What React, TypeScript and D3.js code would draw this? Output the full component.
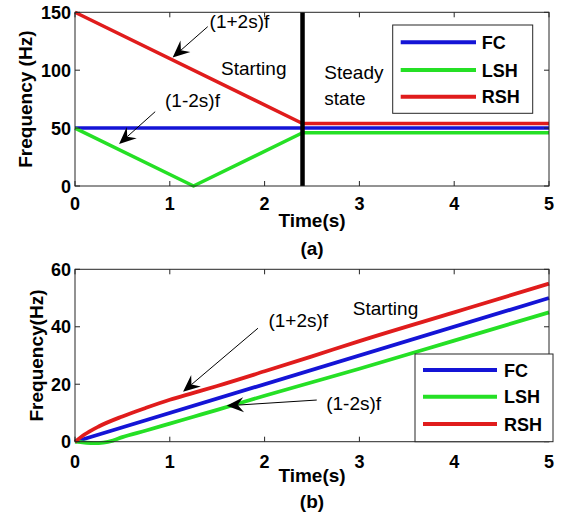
import * as d3 from 'd3'

const W = 564
const H = 512

// shared
const timeTicks = [0, 1, 2, 3, 4, 5]
const seriesNames = ['FC', 'LSH', 'RSH']
const seriesColors = ['#1414d6', '#25e025', '#e01c1c']

// panel (a): constant-speed start, switch to steady state at 2.4 s
const topYTicks = [0, 50, 100, 150]
const switchTime = 2.4
const topFC: [number, number][] = [[0, 50], [5, 50]]
const topLSH: [number, number][] = [[0, 50], [1.25, 0], [2.4, 46], [5, 46]]
const topRSH: [number, number][] = [[0, 150], [2.4, 54], [5, 54]]

// panel (b): ramped supply frequency
const botYTicks = [0, 20, 40, 60]
const botFC: [number, number][] = [[0, 0], [5, 50]]
const botLSH: [number, number][] = [
  [0, 0], [0.1, -0.3], [0.2, -0.5], [0.3, -0.3], [0.4, 0.4], [0.5, 1.6], [0.75, 3.9],
  [1, 6.3], [1.25, 8.7], [1.5, 11.1], [2, 16], [2.5, 20.7], [3, 25.4], [4, 35.2], [5, 45],
]
const botRSH: [number, number][] = [
  [0, 0], [0.1, 2.5], [0.25, 5.3], [0.5, 8.8], [0.75, 11.8], [1, 14.6], [1.25, 17],
  [1.5, 19.4], [2, 24.5], [2.5, 29.7], [3, 35], [4, 45], [5, 55],
]

// annotations, in data units: [tail t, tail Hz, tip t, tip Hz]
const topArrows = [[1.4, 137.6, 1.03, 111], [0.846, 64.2, 0.465, 36.3]]
const topNotes: [string, number, number][] = [
  ['(1+2s)f', 1.42, 142.5], ['(1-2s)f', 0.95, 74.3], ['Starting', 1.54, 101.6],
  ['Steady', 2.63, 98.7], ['state', 2.63, 76.2],
]
const botArrows = [[1.93, 39.5, 1.14, 17.4], [2.55, 14.5, 1.6, 12.5]]
const botNotes: [string, number, number][] = [
  ['(1+2s)f', 2.04, 42.4], ['Starting', 2.93, 46.5], ['(1-2s)f', 2.65, 13.4],
]

const FONT = '"Liberation Sans", Arial, sans-serif'

function arrowHead(x1: number, y1: number, x2: number, y2: number) {
  const dx = x2 - x1, dy = y2 - y1
  const L = Math.hypot(dx, dy)
  const ux = dx / L, uy = dy / L
  const px = -uy, py = ux
  const hl = 17, hw = 7.5, notch = 6
  const bx = x2 - ux * hl, by = y2 - uy * hl
  const nx = x2 - ux * (hl - notch), ny = y2 - uy * (hl - notch)
  return {
    head: `M${x2},${y2}L${bx + px * hw},${by + py * hw}L${nx},${ny}L${bx - px * hw},${by - py * hw}Z`,
    nx, ny,
  }
}

type PanelProps = {
  top: number
  bottom: number
  yMax: number
  yTicks: number[]
  series: [number, number][][]
  curve: d3.CurveFactory
  lineWidth: number
  yTitle: string
  yTitleX: number
  tickLabelY: number
  xTitleY: number
  tagY: number
  tag: string
  legend: { x0: number; x1: number; y0: number; y1: number; rows: number[]; lx0: number; lx1: number; tx: number }
  arrows: number[][]
  notes: [string, number, number][]
  divider?: number
}

function Panel(p: PanelProps) {
  const left = 75, right = 549
  const x = d3.scaleLinear().domain([0, 5]).range([left, right])
  const y = d3.scaleLinear().domain([0, p.yMax]).range([p.bottom, p.top])
  const line = d3.line<[number, number]>().x(d => x(d[0])).y(d => y(d[1])).curve(p.curve)
  const tl = 5
  const frame = '#262626'
  const cx = (left + right) / 2
  return (
    <g>
      {p.series.map((s, i) => (
        <path key={i} d={line(s) || ''} fill="none" stroke={seriesColors[i]} strokeWidth={p.lineWidth} strokeLinejoin="round" />
      ))}
      {p.divider !== undefined && (
        <line x1={x(p.divider)} x2={x(p.divider)} y1={p.top} y2={p.bottom} stroke="#000" strokeWidth={4.5} />
      )}
      <rect x={left} y={p.top} width={right - left} height={p.bottom - p.top} fill="none" stroke={frame} strokeWidth={1} />
      {timeTicks.map(t => (
        <g key={'x' + t}>
          <line x1={x(t)} x2={x(t)} y1={p.bottom} y2={p.bottom - tl} stroke={frame} />
          <line x1={x(t)} x2={x(t)} y1={p.top} y2={p.top + tl} stroke={frame} />
          <text x={x(t)} y={p.tickLabelY} textAnchor="middle" fontSize={18} fontWeight="bold" fontFamily={FONT}>{t}</text>
        </g>
      ))}
      {p.yTicks.map(v => (
        <g key={'y' + v}>
          <line x1={left} x2={left + tl} y1={y(v)} y2={y(v)} stroke={frame} />
          <line x1={right} x2={right - tl} y1={y(v)} y2={y(v)} stroke={frame} />
          <text x={left - 4} y={y(v) + 6.5} textAnchor="end" fontSize={18} fontWeight="bold" fontFamily={FONT}>{v}</text>
        </g>
      ))}
      <text transform={`translate(${p.yTitleX},${(p.top + p.bottom) / 2}) rotate(-90)`} y={7} textAnchor="middle"
        fontSize={19} fontWeight="bold" fontFamily={FONT}>{p.yTitle}</text>
      <text x={cx} y={p.xTitleY} textAnchor="middle" fontSize={19} fontWeight="bold" fontFamily={FONT}>Time(s)</text>
      <text x={cx} y={p.tagY} textAnchor="middle" fontSize={19} fontWeight="bold" fontFamily={FONT}>{p.tag}</text>
      {p.notes.map(([s, t, v], i) => (
        <text key={'n' + i} x={x(t)} y={y(v) + 7} fontSize={19} fontFamily={FONT}>{s}</text>
      ))}
      {p.arrows.map((a, i) => {
        const x1 = x(a[0]), y1 = y(a[1]), x2 = x(a[2]), y2 = y(a[3])
        const h = arrowHead(x1, y1, x2, y2)
        return (
          <g key={'a' + i}>
            <line x1={x1} y1={y1} x2={h.nx} y2={h.ny} stroke="#000" strokeWidth={1} />
            <path d={h.head} fill="#000" />
          </g>
        )
      })}
      <rect x={p.legend.x0} y={p.legend.y0} width={p.legend.x1 - p.legend.x0} height={p.legend.y1 - p.legend.y0}
        fill="#fff" stroke={frame} strokeWidth={1} />
      {seriesNames.map((n, i) => (
        <g key={n}>
          <line x1={p.legend.lx0} x2={p.legend.lx1} y1={p.legend.rows[i]} y2={p.legend.rows[i]} stroke={seriesColors[i]} strokeWidth={4} />
          <text x={p.legend.tx} y={p.legend.rows[i] + 6.5} fontSize={18} fontWeight="bold" fontFamily={FONT}>{n}</text>
        </g>
      ))}
    </g>
  )
}

export default function App() {
  return (
    <svg width={W} height={H} viewBox={`0 0 ${W} ${H}`} style={{ position: 'absolute', left: 0, top: 0, background: '#fff' }}>
      <rect width={W} height={H} fill="#fff" />
      <Panel
        top={12.3} bottom={186} yMax={150} yTicks={topYTicks}
        series={[topFC, topLSH, topRSH]} curve={d3.curveLinear} lineWidth={3.5}
        yTitle="Frequency (Hz)" yTitleX={25} tickLabelY={210} xTitleY={227} tagY={255} tag="(a)"
        legend={{ x0: 392.7, x1: 532.7, y0: 25, y1: 113.3, rows: [42.3, 70, 96.7], lx0: 400.7, lx1: 476, tx: 481.7 }}
        arrows={topArrows} notes={topNotes} divider={switchTime}
      />
      <Panel
        top={269.3} bottom={441.7} yMax={60} yTicks={botYTicks}
        series={[botFC, botLSH, botRSH]} curve={d3.curveMonotoneX} lineWidth={3.8}
        yTitle="Frequency(Hz)" yTitleX={36} tickLabelY={468} xTitleY={482} tagY={508} tag="(b)"
        legend={{ x0: 415, x1: 553, y0: 354, y1: 441.7, rows: [370, 396.7, 424], lx0: 423, lx1: 497, tx: 504 }}
        arrows={botArrows} notes={botNotes}
      />
    </svg>
  )
}
